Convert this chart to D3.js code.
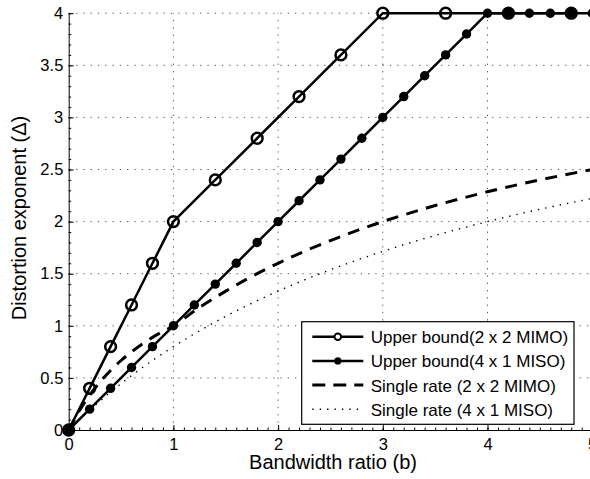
<!DOCTYPE html>
<html>
<head>
<meta charset="utf-8">
<script src="https://cdn.jsdelivr.net/npm/d3@7"></script>
<style>
  html, body { margin: 0; padding: 0; background: #fff; }
  svg { display: block; font-family: "Liberation Sans", Arial, Helvetica, sans-serif; }
</style>
</head>
<body>
<script>
// upper bound, 2 x 2 MIMO (open circles)
const mimoUbX = [0, 0.2, 0.4, 0.6, 0.8, 1.0, 1.4, 1.8, 2.2, 2.6, 3.0, 3.6, 4.2, 4.8];
const mimoUbY = [0, 0.4, 0.8, 1.2, 1.6, 2.0, 2.4, 2.8, 3.2, 3.6, 4.0, 4.0, 4.0, 4.0];

// upper bound, 4 x 1 MISO (filled dots)
const misoUbX = [0, 0.2, 0.4, 0.6, 0.8, 1.0, 1.2, 1.4, 1.6, 1.8, 2.0, 2.2, 2.4, 2.6, 2.8,
                 3.0, 3.2, 3.4, 3.6, 3.8, 4.0, 4.2, 4.4, 4.6, 4.8, 5.0];
const misoUbY = [0, 0.2, 0.4, 0.6, 0.8, 1.0, 1.2, 1.4, 1.6, 1.8, 2.0, 2.2, 2.4, 2.6, 2.8,
                 3.0, 3.2, 3.4, 3.6, 3.8, 4.0, 4.0, 4.0, 4.0, 4.0, 4.0];

// single rate curves
const singleX     = [0, 0.1, 0.2, 0.3, 0.4, 0.5, 0.6, 0.8, 1.0, 1.25, 1.5, 1.75, 2.0, 2.5, 3.0, 3.5, 4.0, 4.5, 5.0];
const singleMimoY = [0, 0.182, 0.333, 0.462, 0.571, 0.667, 0.75, 0.889, 1.0, 1.176, 1.333, 1.474, 1.6, 1.818, 2.0, 2.154, 2.286, 2.4, 2.5];
const singleMisoY = [0, 0.098, 0.19, 0.279, 0.364, 0.444, 0.522, 0.667, 0.8, 0.952, 1.091, 1.217, 1.333, 1.538, 1.714, 1.867, 2.0, 2.118, 2.222];

const xTicks = [0, 1, 2, 3, 4, 5];
const yTicks = [0, 0.5, 1, 1.5, 2, 2.5, 3, 3.5, 4];
const legendLabels = ["Upper bound(2 x 2 MIMO)", "Upper bound(4 x 1 MISO)",
                      "Single rate (2 x 2 MIMO)", "Single rate (4 x 1 MISO)"];

const W = 590, H = 479;
const svg = d3.select('body').append('svg').attr('width', W).attr('height', H);

// scales
const x = d3.scaleLinear().domain([0, 5]).range([68.7, 592.2]);
const y = d3.scaleLinear().domain([0, 4]).range([430, 13.2]);

// grid
const grid = svg.append('g').attr('stroke', '#555').attr('stroke-width', 1)
    .attr('stroke-dasharray', '1.3,6');
grid.selectAll('line.gx').data(xTicks.filter(d => d > 0)).enter().append('line')
    .attr('x1', d => x(d)).attr('x2', d => x(d))
    .attr('y1', y(0)).attr('y2', y(4));
grid.selectAll('line.gy').data(yTicks.filter(d => d > 0)).enter().append('line')
    .attr('y1', d => y(d)).attr('y2', d => y(d))
    .attr('x1', x(0)).attr('x2', x(5));

// series
const zip = (xs, ys) => xs.map((v, i) => [v, ys[i]]);
const mimoUb = zip(mimoUbX, mimoUbY);
const misoUb = zip(misoUbX, misoUbY);
const singleMimo = zip(singleX, singleMimoY);
const singleMiso = zip(singleX, singleMisoY);

const lineLin = d3.line().x(d => x(d[0])).y(d => y(d[1]));
const lineSmooth = d3.line().x(d => x(d[0])).y(d => y(d[1])).curve(d3.curveMonotoneX);

svg.append('path').datum(singleMiso).attr('d', lineSmooth)
    .attr('fill', 'none').attr('stroke', '#000').attr('stroke-width', 1.4)
    .attr('stroke-dasharray', '1.4,6');
svg.append('path').datum(singleMimo).attr('d', lineSmooth)
    .attr('fill', 'none').attr('stroke', '#000').attr('stroke-width', 3)
    .attr('stroke-dasharray', '12,8.5');

svg.append('path').datum(mimoUb).attr('d', lineLin)
    .attr('fill', 'none').attr('stroke', '#000').attr('stroke-width', 2.5);
svg.append('path').datum(misoUb).attr('d', lineLin)
    .attr('fill', 'none').attr('stroke', '#000').attr('stroke-width', 2.5);

svg.append('g').selectAll('circle').data(mimoUb).enter().append('circle')
    .attr('cx', d => x(d[0])).attr('cy', d => y(d[1])).attr('r', 5.4)
    .attr('fill', 'none').attr('stroke', '#000').attr('stroke-width', 2.5);
svg.append('g').selectAll('circle').data(misoUb).enter().append('circle')
    .attr('cx', d => x(d[0])).attr('cy', d => y(d[1])).attr('r', 4.7)
    .attr('fill', '#000');

// axes (ticks point inward)
const fmt = d => String(d);
const xAxis = svg.append('g').attr('transform', `translate(0,${y(0)})`)
    .call(d3.axisBottom(x).tickValues(xTicks).tickFormat(fmt).tickSizeInner(-5).tickSizeOuter(0).tickPadding(8));
const yAxis = svg.append('g').attr('transform', `translate(${x(0)},0)`)
    .call(d3.axisLeft(y).tickValues(yTicks).tickFormat(fmt).tickSizeInner(-5).tickSizeOuter(0).tickPadding(5.4));
[xAxis, yAxis].forEach(a => {
    a.select('.domain').attr('stroke', '#000').attr('stroke-width', 1);
    a.selectAll('.tick line').attr('stroke', '#000');
    a.selectAll('text').attr('font-size', 16.5).attr('fill', '#000')
        .attr('font-family', '"Liberation Sans", Arial, sans-serif');
});

// minor ticks
svg.append('g').attr('transform', `translate(0,${y(0)})`)
    .call(d3.axisBottom(x).tickValues(d3.range(0, 51).map(i => i / 10)).tickFormat('').tickSize(-2.5))
    .call(g => g.select('.domain').remove());
svg.append('g').attr('transform', `translate(${x(0)},0)`)
    .call(d3.axisLeft(y).tickValues(d3.range(0, 41).map(i => i / 10)).tickFormat('').tickSize(-2.5))
    .call(g => g.select('.domain').remove());

// axis titles
svg.append('text').attr('x', 333).attr('y', 469).attr('text-anchor', 'middle')
    .attr('font-size', 20).text('Bandwidth ratio (b)');
svg.append('text').attr('transform', 'translate(26,218) rotate(-90)').attr('text-anchor', 'middle')
    .attr('font-size', 20).text('Distortion exponent (\u0394)');

// legend
const lg = svg.append('g');
lg.append('rect').attr('x', 301.7).attr('y', 321.7).attr('width', 272.3).attr('height', 102.6)
    .attr('fill', '#fff').attr('stroke', '#000').attr('stroke-width', 1.2);
const styles = [
    { w: 2.5, dash: null, marker: 'open' },
    { w: 2.5, dash: null, marker: 'dot' },
    { w: 3, dash: '13,8', marker: null },
    { w: 1.4, dash: '1.4,6', marker: null }
];
legendLabels.forEach((label, i) => {
    const cy = 336.7 + i * 24.2;
    const s = styles[i];
    const l = lg.append('line').attr('x1', 312.3).attr('x2', 363.3).attr('y1', cy).attr('y2', cy)
        .attr('stroke', '#000').attr('stroke-width', s.w);
    if (s.dash) l.attr('stroke-dasharray', s.dash);
    if (s.marker === 'open') {
        lg.append('circle').attr('cx', 337.8).attr('cy', cy).attr('r', 3.3)
            .attr('fill', '#fff').attr('stroke', '#000').attr('stroke-width', 2);
    } else if (s.marker === 'dot') {
        lg.append('circle').attr('cx', 337.8).attr('cy', cy).attr('r', 3.6).attr('fill', '#000');
    }
    lg.append('text').attr('x', 370.7).attr('y', cy).attr('dy', '0.38em')
        .attr('font-size', 17).text(label);
});
</script>
</body>
</html>
